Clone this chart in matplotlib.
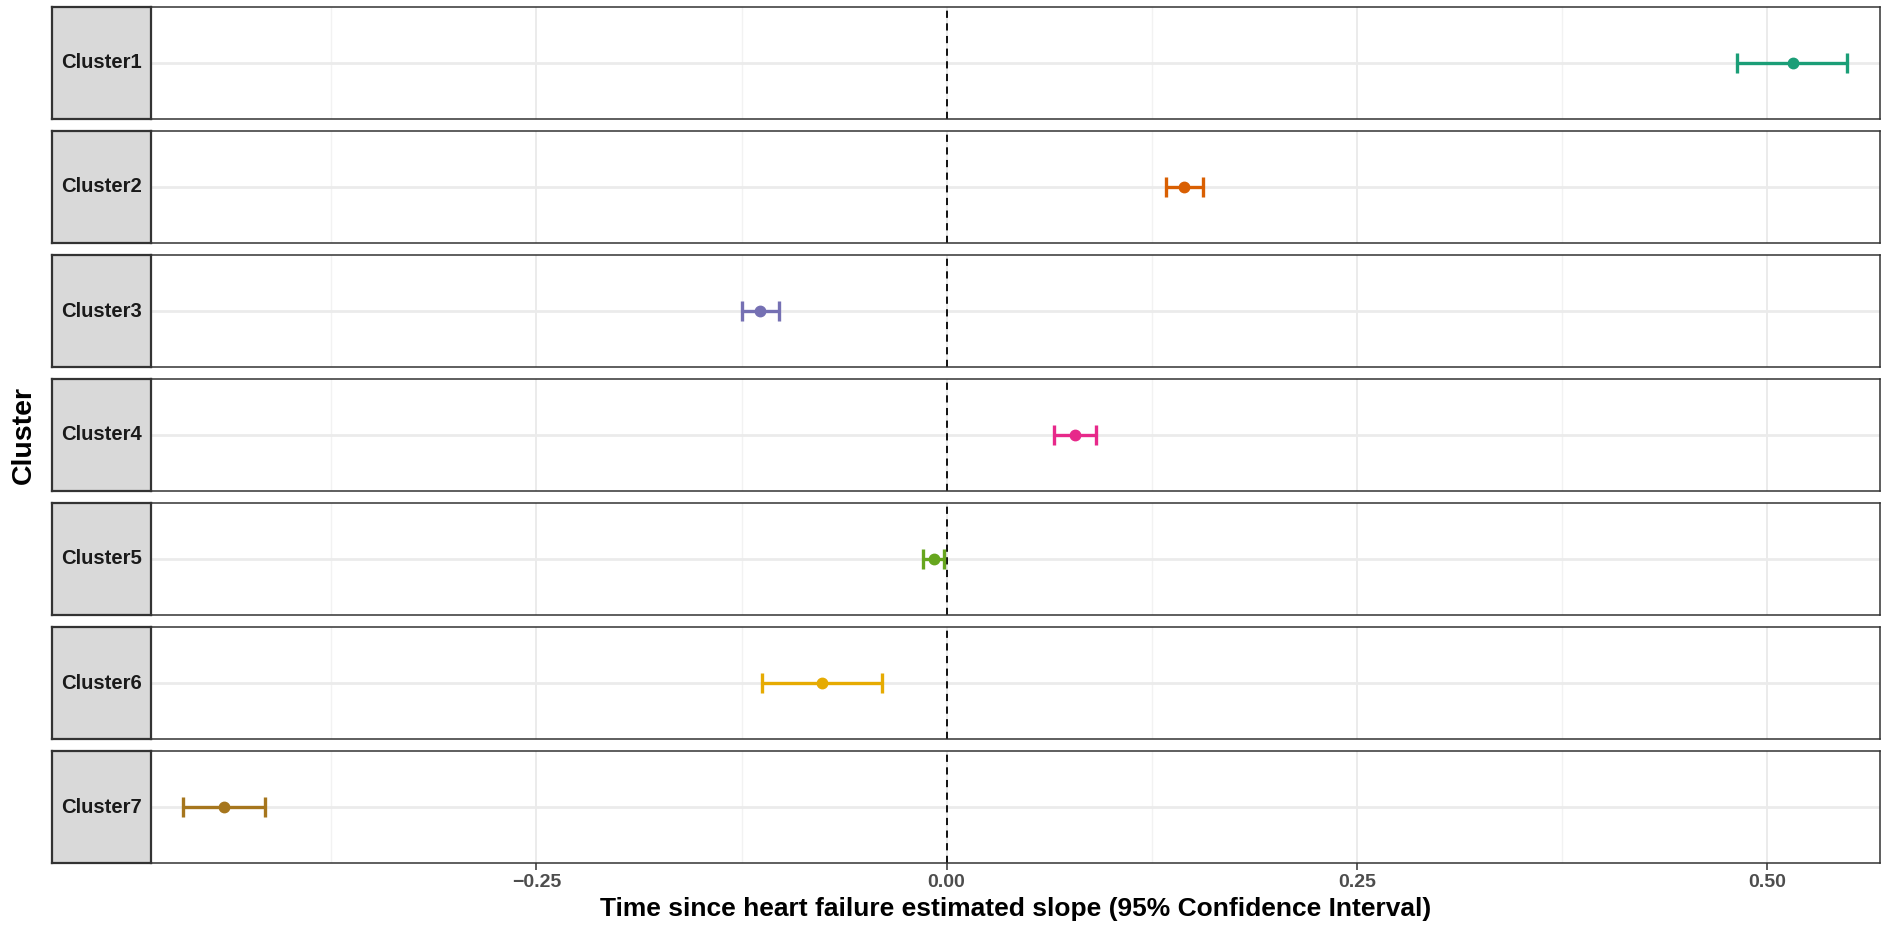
import matplotlib
matplotlib.use("Agg")
import matplotlib.pyplot as plt

plt.rcParams['font.family'] = ['Liberation Sans', 'DejaVu Sans']

clusters = ["Cluster1", "Cluster2", "Cluster3", "Cluster4", "Cluster5", "Cluster6", "Cluster7"]
estimate = [0.516, 0.145, -0.1135, 0.0784, -0.0076, -0.0761, -0.4405]
ci_low = [0.482, 0.1337, -0.1245, 0.0657, -0.0141, -0.1127, -0.4654]
ci_high = [0.549, 0.1566, -0.102, 0.091, -0.0013, -0.0395, -0.4155]
colors = ["#1B9E77", "#D95F02", "#7570B3", "#E7298A", "#66A61E", "#E6AB02", "#A6761D"]
major_ticks = [-0.25, 0.0, 0.25, 0.50]
major_labels = ["\u22120.25", "0.00", "0.25", "0.50"]
minor_ticks = [-0.375, -0.125, 0.125, 0.375]
xlim = (-0.485, 0.569)

W, H = 1883, 930
fig = plt.figure(figsize=(W / 100, H / 100), dpi=100)

panel_left, panel_right = 151, 1880
strip_left = 52
top0, step, ph = 7, 124.0, 112.0
border = "#333333"

for i, name in enumerate(clusters):
    top = top0 + i * step
    y0 = 1 - (top + ph) / H
    ax = fig.add_axes([panel_left / W, y0, (panel_right - panel_left) / W, ph / H])
    ax.set_xlim(*xlim)
    ax.set_ylim(0.4, 1.6)
    for xv in minor_ticks:
        ax.axvline(xv, color="#F2F2F2", lw=1.0, zorder=0)
    for xv in major_ticks:
        ax.axvline(xv, color="#EBEBEB", lw=1.4, zorder=0)
    ax.axhline(1, color="#EBEBEB", lw=2.0, zorder=0)
    ax.axvline(0, color="black", lw=1.3, ls=(0, (4, 3)), zorder=1)
    ax.errorbar([estimate[i]], [1], xerr=[[estimate[i] - ci_low[i]], [ci_high[i] - estimate[i]]],
                fmt="o", color=colors[i], ms=7.5, elinewidth=2.4, capsize=7.5, capthick=2.4, zorder=3)
    ax.set_yticks([])
    for s in ax.spines.values():
        s.set_color(border)
        s.set_linewidth(1.1)
    if i == len(clusters) - 1:
        ax.set_xticks(major_ticks)
        ax.set_xticklabels(major_labels, fontsize=14, fontweight="bold", color="#4D4D4D")
        ax.tick_params(axis="x", length=5, width=1.1, color="#333333", pad=3)
        ax.set_xlabel("Time since heart failure estimated slope (95% Confidence Interval)",
                      fontsize=19, fontweight="bold", labelpad=4)
    else:
        ax.set_xticks([])
    # strip
    sax = fig.add_axes([strip_left / W, y0, (panel_left - strip_left) / W, ph / H])
    sax.set_facecolor("#D9D9D9")
    sax.set_xticks([])
    sax.set_yticks([])
    for s in sax.spines.values():
        s.set_color(border)
        s.set_linewidth(1.6)
    sax.text(0.5, 0.5, name, ha="center", va="center", fontsize=14.6, fontweight="bold",
             color="#1A1A1A", transform=sax.transAxes)

fig.text(24 / W, 1 - 435 / H, "Cluster", rotation=90, ha="center", va="center",
         fontsize=20.5, fontweight="bold")

fig.savefig("out.png", dpi=100, facecolor="white")
